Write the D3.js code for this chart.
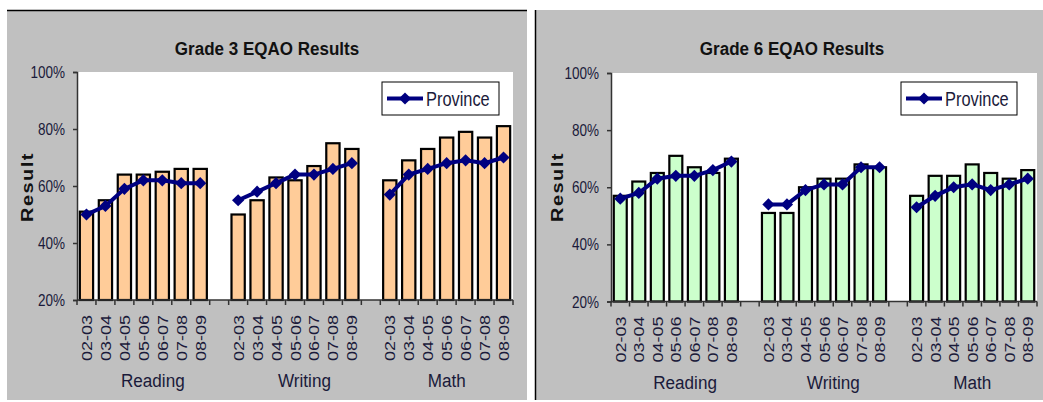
<!DOCTYPE html>
<html>
<head>
<meta charset="utf-8">
<script src="https://cdn.jsdelivr.net/npm/d3@7"></script>
<style>
  body { margin: 0; background: #fff; }
  svg { display: block; font-family: Arial, "Liberation Sans", sans-serif; }
</style>
</head>
<body>
<svg id="chart" width="1043" height="402"></svg>
<script>
const years = ["02-03", "03-04", "04-05", "05-06", "06-07", "07-08", "08-09"];
const subjects = ["Reading", "Writing", "Math"];
const yTicks = [0.2, 0.4, 0.6, 0.8, 1.0];

// grade 3 (school bars, province line)
const g3Reading = [51, 55, 64, 64, 65, 66, 66];
const g3Writing = [50, 55, 63, 62, 67, 75, 73];
const g3Math = [62, 69, 73, 77, 79, 77, 81];
const g3ReadingProv = [50, 53, 59, 62, 62, 61, 61];
const g3WritingProv = [55, 58, 61, 64, 64, 66, 68];
const g3MathProv = [57, 64, 66, 68, 69, 68, 70];

// grade 6
const g6Reading = [57, 62, 65, 71, 67, 65, 70];
const g6Writing = [51, 51, 60, 63, 63, 68, 67];
const g6Math = [57, 64, 64, 68, 65, 63, 66];
const g6ReadingProv = [56, 58, 63, 64, 64, 66, 69];
const g6WritingProv = [54, 54, 59, 61, 61, 67, 67];
const g6MathProv = [53, 57, 60, 61, 59, 61, 63];

const svg = d3.select("#chart");
const SX = 0.82; // the picture is squeezed sideways a bit

// slots: 7 years per subject, one empty slot between subjects
const slots = [];
subjects.forEach((s, i) => {
  years.forEach(y => slots.push(s + "|" + y));
  if (i < subjects.length - 1) slots.push("gap" + i);
});

function drawChart(cfg) {
  const g = svg.append("g");

  // plot area
  g.append("rect")
    .attr("x", cfg.plot[0]).attr("y", cfg.plot[1])
    .attr("width", cfg.plot[2] - cfg.plot[0])
    .attr("height", cfg.plot[3] - cfg.plot[1])
    .attr("fill", "#fff");

  const x = d3.scaleBand().domain(slots)
    .range([cfg.plot[0], cfg.plot[2]])
    .paddingInner(0.3).paddingOuter(0.15);
  const y = d3.scaleLinear().domain([0.2, 1.0]).range([cfg.plot[3], cfg.plot[1]]);
  const step = x.step();

  // title
  g.append("text")
    .attr("transform", `translate(${cfg.titleX},55) scale(0.92,1)`)
    .attr("text-anchor", "middle")
    .attr("font-size", 18.5).attr("font-weight", "bold")
    .attr("fill", "#111")
    .text(cfg.title);

  // bars
  const bars = [];
  subjects.forEach((s, i) => {
    cfg.bars[i].forEach((v, j) => bars.push({key: s + "|" + years[j], v: v / 100}));
  });
  g.append("g").selectAll("rect").data(bars).join("rect")
    .attr("x", d => x(d.key))
    .attr("width", x.bandwidth())
    .attr("y", d => y(d.v))
    .attr("height", d => y(0.2) - y(d.v))
    .attr("fill", cfg.fill)
    .attr("stroke", "#000")
    .attr("stroke-width", 2.2);

  // province line, one piece per subject
  const line = d3.line()
    .x(d => x(d.key) + x.bandwidth() / 2)
    .y(d => y(d.v));
  subjects.forEach((s, i) => {
    const pts = cfg.prov[i].map((v, j) => ({key: s + "|" + years[j], v: v / 100}));
    g.append("path").datum(pts)
      .attr("d", line)
      .attr("fill", "none")
      .attr("stroke", "#000080")
      .attr("stroke-width", 4);
    g.append("g").selectAll("path").data(pts).join("path")
      .attr("d", d3.symbol(d3.symbolDiamond2, 95))
      .attr("transform", d => `translate(${x(d.key) + x.bandwidth() / 2},${y(d.v)})`)
      .attr("fill", "#000080");
  });

  // y axis
  const yAxis = g.append("g")
    .attr("transform", `translate(${cfg.plot[0]},0)`)
    .call(d3.axisLeft(y).tickValues(yTicks).tickSize(4).tickFormat(d3.format(".0%")));
  yAxis.selectAll("path, line").attr("stroke", "#333").attr("stroke-width", 1.5);
  yAxis.selectAll("text").remove();
  g.append("g").selectAll("text").data(yTicks).join("text")
    .attr("transform", d => `translate(${cfg.plot[0] - 12},${y(d) + 6}) scale(${SX},1)`)
    .attr("text-anchor", "end")
    .attr("font-size", 16.5)
    .attr("fill", "#1a1a3a")
    .text(d3.format(".0%"));

  // x axis: ticks on slot boundaries
  const xg = g.append("g");
  xg.append("line")
    .attr("x1", cfg.plot[0]).attr("x2", cfg.plot[2])
    .attr("y1", y(0.2)).attr("y2", y(0.2))
    .attr("stroke", "#333").attr("stroke-width", 1.5);
  const bounds = slots.map(s => x(s) - step * 0.15).concat([cfg.plot[2]]);
  xg.selectAll("line.tk").data(bounds).join("line")
    .attr("class", "tk")
    .attr("x1", d => d).attr("x2", d => d)
    .attr("y1", y(0.2)).attr("y2", y(0.2) + 5)
    .attr("stroke", "#333").attr("stroke-width", 1.5);

  const yearSlots = slots.filter(s => s.indexOf("|") > 0);
  xg.selectAll("text.yr").data(yearSlots).join("text")
    .attr("class", "yr")
    .attr("transform", d => `translate(${x(d) + x.bandwidth() / 2 + 5.5},${y(0.2) + 15}) scale(${SX},1) rotate(-90)`)
    .attr("text-anchor", "end")
    .attr("font-size", 18)
    .attr("fill", "#1a1a3a")
    .text(d => d.split("|")[1]);

  // subject labels centred under their group of slots
  subjects.forEach((s, i) => {
    const first = x(s + "|" + years[0]) - step * 0.15;
    const last = i < subjects.length - 1 ? x("gap" + i) + step * 0.85 : cfg.plot[2];
    g.append("text")
      .attr("transform", `translate(${(first + last) / 2},${cfg.plot[3] + 87}) scale(0.9,1)`)
      .attr("text-anchor", "middle")
      .attr("font-size", 19)
      .attr("fill", "#1a1a3a")
      .text(s);
  });

  // y label
  g.append("text")
    .attr("transform", `translate(${cfg.ylabX},187) scale(${SX},1) rotate(-90)`)
    .attr("text-anchor", "middle")
    .attr("font-size", 20).attr("font-weight", "bold")
    .attr("letter-spacing", 1.5)
    .attr("fill", "#111")
    .text("Result");

  // legend
  const L = cfg.legend;
  const lg = g.append("g").attr("transform", `translate(${L[0]},${L[1]})`);
  lg.append("rect")
    .attr("width", L[2]).attr("height", 33)
    .attr("fill", "#fff").attr("stroke", "#000").attr("stroke-width", 1);
  lg.append("line")
    .attr("x1", 5).attr("x2", 41).attr("y1", 16.5).attr("y2", 16.5)
    .attr("stroke", "#000080").attr("stroke-width", 4);
  lg.append("path")
    .attr("d", d3.symbol(d3.symbolDiamond2, 95))
    .attr("transform", "translate(23,16.5)")
    .attr("fill", "#000080");
  lg.append("text")
    .attr("transform", `translate(44,24) scale(${SX},1)`)
    .attr("font-size", 20)
    .attr("fill", "#1a1a3a")
    .text("Province");
}

// panel backgrounds
svg.append("rect").attr("x", 7).attr("y", 10).attr("width", 520).attr("height", 390).attr("fill", "#c0c0c0");
svg.append("line").attr("x1", 7).attr("x2", 527).attr("y1", 10.5).attr("y2", 10.5).attr("stroke", "#000").attr("stroke-width", 1.5);
svg.append("rect").attr("x", 535).attr("y", 10).attr("width", 508).attr("height", 390).attr("fill", "#c0c0c0");
svg.append("line").attr("x1", 535.5).attr("x2", 535.5).attr("y1", 10).attr("y2", 400).attr("stroke", "#000").attr("stroke-width", 1.5);

drawChart({
  title: "Grade 3 EQAO Results",
  titleX: 267,
  plot: [77, 72, 513, 300],
  ylabX: 33,
  fill: "#ffcc99",
  bars: [g3Reading, g3Writing, g3Math],
  prov: [g3ReadingProv, g3WritingProv, g3MathProv],
  legend: [382, 82, 117]
});

drawChart({
  title: "Grade 6 EQAO Results",
  titleX: 792,
  plot: [611, 73, 1037, 301.5],
  ylabX: 563,
  fill: "#ccffcc",
  bars: [g6Reading, g6Writing, g6Math],
  prov: [g6ReadingProv, g6WritingProv, g6MathProv],
  legend: [901, 82, 116]
});
</script>
</body>
</html>
